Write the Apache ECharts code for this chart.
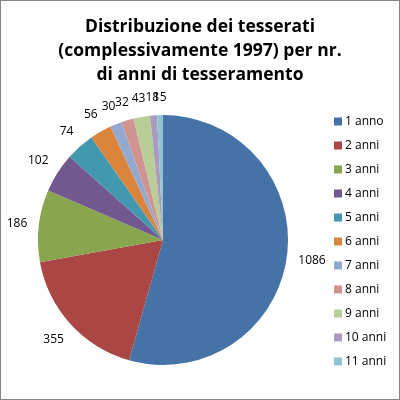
<!DOCTYPE html>
<html><head><meta charset="utf-8">
<script src="https://cdn.jsdelivr.net/npm/echarts@6/dist/echarts.min.js"></script>
<style>html,body{margin:0;padding:0;background:#fff}#c{width:398px;height:398px;border:1px solid #868686}</style>
</head><body><div id="c"></div>
<script>
const categories = ['1 anno','2 anni','3 anni','4 anni','5 anni','6 anni','7 anni','8 anni','9 anni','10 anni','11 anni'];
const values = [1086,355,186,102,74,56,30,32,43,18,15];
const colors = ['#4572A7','#AA4643','#89A54E','#71588F','#4198AF','#DB843D','#93A9CF','#D19392','#B9CD96','#A99BBD','#92C3D4'];
const CX = 162, CY = 239, R = 125, GAP = 11;
const total = values.reduce((a,b)=>a+b,0);
const mids = []; { let c = 0; values.forEach(v => { mids.push(2*Math.PI*(c + v/2)/total); c += v; }); }
const chart = echarts.init(document.getElementById('c'));
chart.setOption({
  animation:false,
  color: colors,
  title:{text:'Distribuzione dei tesserati\n(complessivamente 1997) per nr.\ndi anni di tesseramento',left:'center',top:9,
    textStyle:{fontFamily:'Open Sans',fontWeight:'bold',fontSize:17.5,lineHeight:24,color:'#000'}},
  legend:{orient:'vertical',left:333,top:112,padding:0,itemWidth:8,itemHeight:8,itemGap:7,icon:'rect',
    textStyle:{fontFamily:'Open Sans',fontSize:12,color:'#000',lineHeight:17,padding:[0,0,0,-2]},data:categories},
  series:[{type:'pie',center:[CX,CY],radius:R,startAngle:90,clockwise:true,avoidLabelOverlap:false,
    label:{show:true,position:'outside',formatter:'{c}',fontFamily:'Open Sans',fontSize:12,color:'#000'},
    labelLine:{show:false,length:6,length2:0},
    labelLayout:function(p){
      const a = mids[p.dataIndex];
      const dx = Math.sin(a), dy = -Math.cos(a);
      const w = p.labelRect.width, h = p.labelRect.height;
      const off = R + GAP + Math.abs(dx)*w/2 + Math.abs(dy)*h/2;
      return {x: CX + dx*off, y: CY + dy*off, align:'center', verticalAlign:'middle', hideOverlap:false, moveOverlap:null};
    },
    itemStyle:{borderWidth:0},
    emphasis:{disabled:true},
    data:categories.map((n,i)=>({name:n,value:values[i]}))}]
});
</script></body></html>
